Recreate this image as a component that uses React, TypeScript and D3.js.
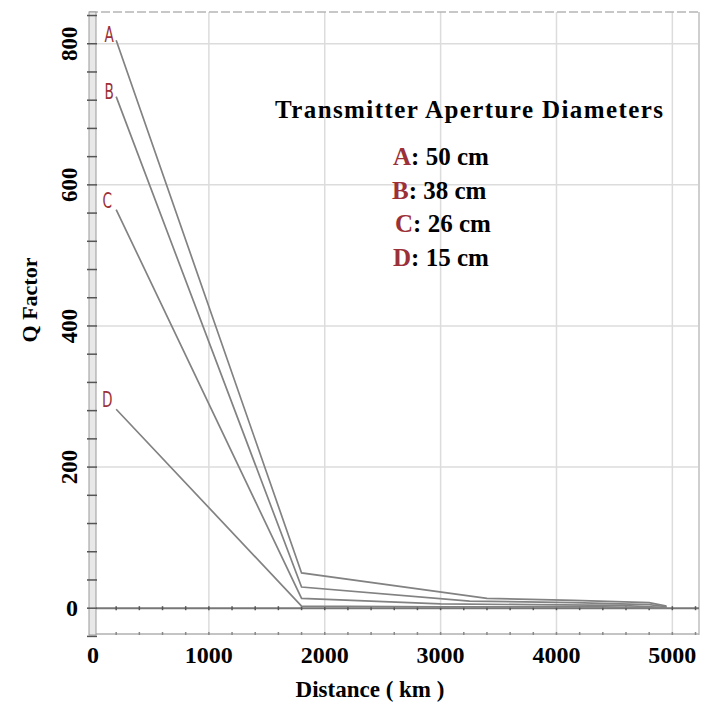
import React from "react";
import * as d3 from "d3";

// distance (km) / Q factor per aperture
const labels = ["A", "B", "C", "D"];
const apertures = ["50 cm", "38 cm", "26 cm", "15 cm"];
const distA = [200, 1800, 3400, 4150, 4800, 4950];
const qA = [805, 50, 14, 11, 8, 3];
const distB = [200, 1800, 3250, 4150, 4800, 4950];
const qB = [725, 30, 10, 8, 5, 2];
const distC = [200, 1800, 3000, 3800, 4550, 4950];
const qC = [565, 14, 6, 5, 4, 1];
const distD = [200, 1800, 3000, 4400, 4950];
const qD = [282, 3, 2, 2, 0.5];

const xTicks = [0, 1000, 2000, 3000, 4000, 5000];
const yTicks = [0, 200, 400, 600, 800];

const W = 725;
const H = 704;
const serif = "'Liberation Serif', 'Times New Roman', serif";
const red = "#9b3038";

const App = () => {
  const x = d3.scaleLinear().domain([0, 5230]).range([93, 699]);
  const y = d3.scaleLinear().domain([-38, 845]).range([635, 12]);

  const series = [
    [distA, qA],
    [distB, qB],
    [distC, qC],
    [distD, qD],
  ].map(([ds, qs]) => ds.map((d, i) => [d, qs[i]] as [number, number]));

  const line = d3
    .line<[number, number]>()
    .x((d) => x(d[0]))
    .y((d) => y(d[1]));

  const minorX = d3.range(0, 5201, 200);
  const minorY = d3.range(-40, 841, 40);
  const left = 89;
  const right = x.range()[1];
  const top = y.range()[1];
  const bottom = y.range()[0];

  return (
    <svg
      width={W}
      height={H}
      style={{ position: "absolute", left: 0, top: 0, background: "#fff" }}
    >
      {/* grid */}
      {xTicks.slice(1).map((t) => (
        <line key={"gx" + t} x1={x(t)} x2={x(t)} y1={top} y2={bottom}
          stroke="#dcdcdc" strokeWidth={1.5} />
      ))}
      {yTicks.slice(1).map((t) => (
        <line key={"gy" + t} x1={left} x2={right} y1={y(t)} y2={y(t)}
          stroke="#dcdcdc" strokeWidth={1.5} />
      ))}

      {/* frame */}
      <line x1={left} x2={right} y1={top} y2={top} stroke="#b5b5b5"
        strokeWidth={1.5} strokeDasharray="9 3" />
      <line x1={right} x2={right} y1={top} y2={bottom} stroke="#cfcfcf" strokeWidth={2} />
      <line x1={left} x2={right} y1={bottom - 1} y2={bottom - 1} stroke="#b0b0b0" strokeWidth={1.5} />
      {minorX.map((t) => (
        <line key={"bx" + t} x1={x(t)} x2={x(t)} y1={bottom - 3} y2={bottom}
          stroke="#888" strokeWidth={1.5} />
      ))}

      {/* zero line */}
      <line x1={left} x2={right} y1={y(0)} y2={y(0)} stroke="#777" strokeWidth={2} />
      {minorX.map((t) => (
        <line key={"zx" + t} x1={x(t)} x2={x(t)} y1={y(0) - 2} y2={y(0) + 2}
          stroke="#555" strokeWidth={1.5} />
      ))}

      {/* left axis bar */}
      <rect x={left} y={top} width={7} height={bottom - top} fill="#e8e8e8"
        stroke="#9a9a9a" strokeWidth={1} />
      {minorY.map((t) => (
        <line key={"ty" + t} x1={87} x2={97} y1={y(t)} y2={y(t)}
          stroke="#555" strokeWidth={1.5} />
      ))}

      {/* series */}
      {series.map((s, i) => (
        <path key={"s" + i} d={line(s) || ""} fill="none" stroke="#828282"
          strokeWidth={1.7} />
      ))}
      {series.map((s, i) => (
        <text key={"l" + i}
          transform={`translate(${x(s[0][0]) - (i < 2 ? 7 : 9)},${y(s[0][1]) + (i < 2 ? 2 : -2)}) scale(0.62,1)`}
          fontFamily="'DejaVu Sans', sans-serif" fontSize={22} fill={red}
          textAnchor="middle">
          {labels[i]}
        </text>
      ))}

      {/* tick labels */}
      {xTicks.map((t) => (
        <text key={"xl" + t} x={x(t)} y={663} textAnchor="middle"
          fontFamily={serif} fontWeight="bold" fontSize={24} fill="#000">
          {t}
        </text>
      ))}
      {yTicks.map((t) =>
        t === 0 ? (
          <text key={"yl" + t} x={72} y={y(t) + 8} textAnchor="middle"
            fontFamily={serif} fontWeight="bold" fontSize={24} fill="#000">
            {t}
          </text>
        ) : (
          <text key={"yl" + t} transform={`translate(77,${y(t)}) rotate(-90)`}
            textAnchor="middle" fontFamily={serif} fontWeight="bold"
            fontSize={23} fill="#000">
            {t}
          </text>
        )
      )}

      {/* axis titles */}
      <text x={370} y={697} textAnchor="middle" fontFamily={serif}
        fontWeight="bold" fontSize={23} fill="#000">
        Distance ( km )
      </text>
      <text transform="translate(37,300) rotate(-90)" textAnchor="middle"
        fontFamily={serif} fontWeight="bold" fontSize={22} fill="#000">
        Q Factor
      </text>

      {/* legend */}
      <text x={275} y={118} textLength={388} lengthAdjust="spacing"
        fontFamily={serif} fontWeight="bold" fontSize={25} fill="#000">
        Transmitter Aperture Diameters
      </text>
      {labels.map((l, i) => (
        <text key={"lg" + l} x={[393, 392, 395, 393][i]} y={165 + i * 33.7}
          fontFamily={serif} fontWeight="bold" fontSize={25} fill="#000">
          <tspan fill={red}>{l}</tspan>: {apertures[i]}
        </text>
      ))}
    </svg>
  );
};

export default App;
